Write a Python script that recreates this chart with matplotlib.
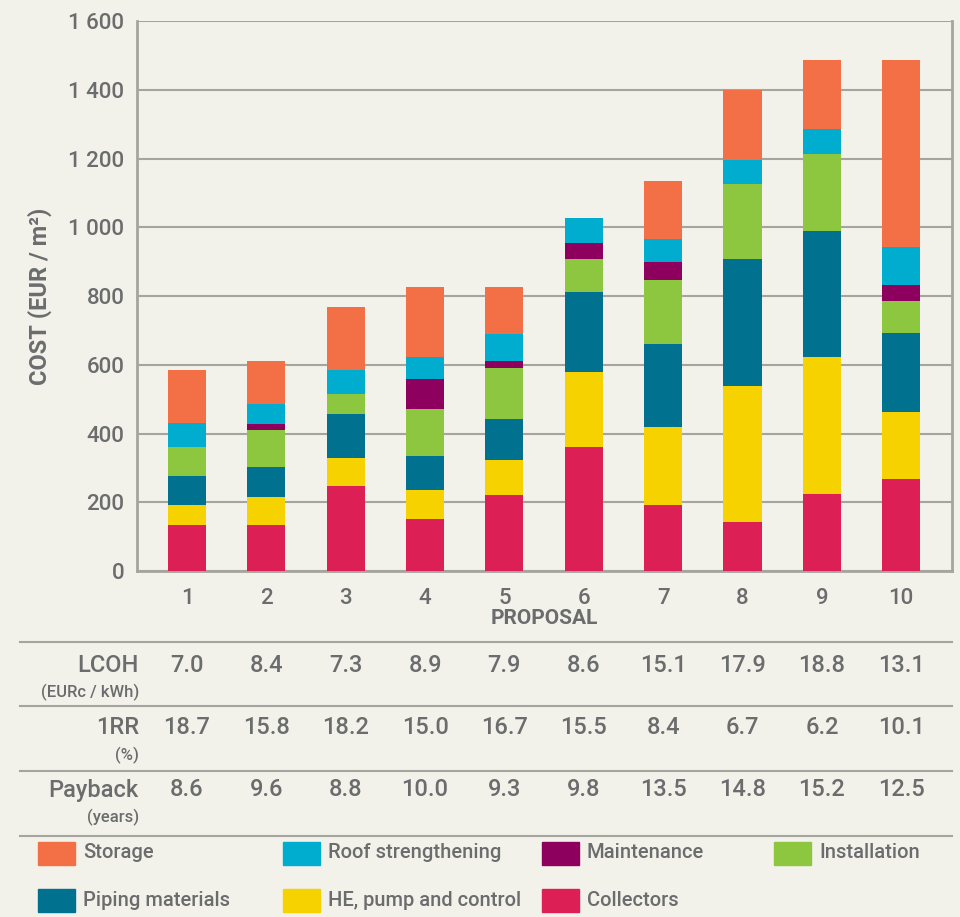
import matplotlib.pyplot as plt
import matplotlib.transforms as mtransforms
from matplotlib.patches import Rectangle
from matplotlib.ticker import FuncFormatter

plt.rcParams['font.family'] = ['Roboto', 'DejaVu Sans']
plt.rcParams['font.weight'] = 'medium'

proposals = [1, 2, 3, 4, 5, 6, 7, 8, 9, 10]

# cost components (EUR / m2), bottom to top
collectors = [134, 134, 247, 151, 220, 362, 192, 142, 224, 267]
he_pump = [58, 81, 81, 84, 104, 217, 228, 396, 398, 197]
piping = [84, 89, 130, 101, 119, 234, 240, 370, 367, 228]
installation = [86, 107, 58, 136, 148, 95, 188, 217, 223, 95]
maintenance = [0, 18, 0, 87, 20, 46, 51, 0, 0, 46]
roof = [70, 58, 69, 63, 79, 73, 67, 72, 75, 109]
storage = [153, 124, 182, 204, 136, 0, 170, 203, 200, 545]

lcoh = ['7.0', '8.4', '7.3', '8.9', '7.9', '8.6', '15.1', '17.9', '18.8', '13.1']
irr = ['18.7', '15.8', '18.2', '15.0', '16.7', '15.5', '8.4', '6.7', '6.2', '10.1']
payback = ['8.6', '9.6', '8.8', '10.0', '9.3', '9.8', '13.5', '14.8', '15.2', '12.5']

bg = '#F3F2EA'
txt = '#6B6C6E'
grid = '#A5A5A0'

series = [
    ('Collectors', collectors, '#DC1F55'),
    ('HE, pump and control', he_pump, '#F6D200'),
    ('Piping materials', piping, '#00718F'),
    ('Installation', installation, '#8DC63F'),
    ('Maintenance', maintenance, '#8E005E'),
    ('Roof strengthening', roof, '#00ADCF'),
    ('Storage', storage, '#F37046'),
]
colors = {name: c for name, _, c in series}

fig = plt.figure(figsize=(9.6, 9.17), dpi=100, facecolor=bg)
ax = fig.add_axes([0.1427, 0.3773, 0.849, 0.5997], facecolor=bg)

bottom = [0] * len(proposals)
for name, vals, c in series:
    ax.bar(proposals, vals, bottom=bottom, width=0.48, color=c, zorder=3)
    bottom = [b + v for b, v in zip(bottom, vals)]

ax.set_xlim(0.37, 10.64)
ax.set_ylim(0, 1600)
ax.set_yticks(range(0, 1601, 200))
ax.set_xticks(proposals)
ax.yaxis.set_major_formatter(FuncFormatter(lambda v, p: f'{v:,.0f}'.replace(',', ' ')))
ax.grid(axis='y', color=grid, linewidth=1.5, zorder=0)
ax.tick_params(length=0, labelsize=16, colors=txt)
ax.tick_params(axis='x', pad=12)
ax.tick_params(axis='y', pad=9)
for s in ['left', 'bottom', 'right']:
    ax.spines[s].set_color(grid)
    ax.spines[s].set_linewidth(2)
ax.spines['top'].set_visible(False)

ax.set_ylabel('COST (EUR / m²)', fontsize=17, color=txt, fontweight='bold', labelpad=12)
ax.set_xlabel('PROPOSAL', fontsize=15, color=txt, fontweight='bold', labelpad=0)

# table under the chart
H = 917.0
W = 960.0
for yp in [642, 706, 771, 836]:
    fig.add_artist(plt.Line2D([20 / W, 952 / W], [1 - yp / H] * 2, color=grid, linewidth=1.5))

trans = mtransforms.blended_transform_factory(ax.transData, fig.transFigure)
rows = [('LCOH', '(EURc / kWh)', lcoh, 665), ('1RR', '(%)', irr, 728), ('Payback', '(years)', payback, 790)]
for label, sub, vals, yp in rows:
    fig.text(139 / W, 1 - yp / H, label, ha='right', va='center', fontsize=17, color=txt)
    fig.text(139 / W, 1 - (yp + 27) / H, sub, ha='right', va='center', fontsize=12, color=txt)
    for x, v in zip(proposals, vals):
        fig.text(x, 1 - yp / H, v, transform=trans, ha='center', va='center', fontsize=17, color=txt)

# legend
legend_rows = [
    [('Storage', 38), ('Roof strengthening', 283), ('Maintenance', 542), ('Installation', 774)],
    [('Piping materials', 38), ('HE, pump and control', 283), ('Collectors', 542)],
]
for items, yp in zip(legend_rows, [853, 900]):
    for name, xp in items:
        fig.add_artist(Rectangle((xp / W, 1 - (yp + 12) / H), 37 / W, 23 / H,
                                 transform=fig.transFigure, color=colors[name]))
        fig.text((xp + 45) / W, 1 - yp / H, name, ha='left', va='center', fontsize=14.5, color=txt)

fig.savefig('out.png', dpi=100, facecolor=bg)
